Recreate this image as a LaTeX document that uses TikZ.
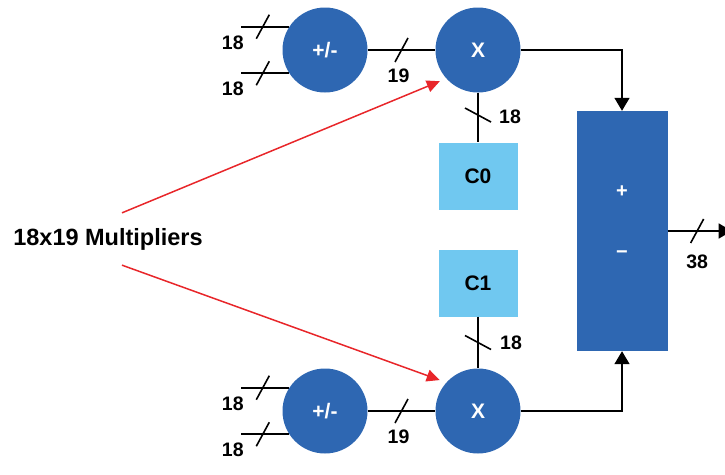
\documentclass[tikz,border=0pt]{standalone}
\usepackage{fontspec}
\setmainfont{Liberation Sans}
\usetikzlibrary{calc,positioning,arrows.meta}
\definecolor{dspblue}{RGB}{46,103,178}
\definecolor{coefblue}{RGB}{112,200,240}
\definecolor{arrred}{RGB}{232,38,42}

\tikzset{
	op/.style={circle,fill=dspblue,minimum size=85pt,inner sep=0pt,text=white,font=\bfseries\fontsize{21}{21}\selectfont},
	coef/.style={rectangle,fill=coefblue,minimum width=79pt,minimum height=67pt,font=\bfseries\fontsize{21}{21}\selectfont},
	num/.style={inner sep=0pt,font=\bfseries\fontsize{19.5}{20}\selectfont},
	sign/.style={inner sep=0pt,text=white,font=\bfseries\fontsize{20}{20}\selectfont},
	wire/.style={line width=1.6pt},
	tick/.style={line width=1.6pt},
	tip/.style={-{Triangle[width=15pt,length=13pt]}},
	pointer/.style={draw=arrred,line width=1.5pt,-{Triangle[width=12pt,length=13pt]}}
}

\begin{document}
\begin{tikzpicture}[x=1pt,y=-1pt]
	\useasboundingbox (0,0) rectangle (725,474);

	% blocks
	\node[op] (plus1) at (325,50) {+/-};
	\node[op] (mul1)  at (478,50) {X};
	\node[op] (plus2) at (325,411) {+/-};
	\node[op] (mul2)  at (478,411) {X};
	\node[coef] (c0) at (478,176) {C0};
	\node[coef] (c1) at (478,283) {C1};
	\node[rectangle,fill=dspblue,minimum width=91pt,minimum height=240pt] (sum) at (622,231) {};
	\node[sign] (sp) at ($(sum.center)+(0,-39)$) {+};
	\node[sign] (sm) at ($(sum.center)+(0,24)$) {−};
	\node[num,font=\bfseries\fontsize{23.5}{24}\selectfont] (lbl) at (108,239) {18x19 Multipliers};

	% free ends
	\coordinate (in1) at ($(plus1.147)+(-48,0)$);
	\coordinate (in2) at ($(plus1.213)+(-48,0)$);
	\coordinate (in3) at ($(plus2.147)+(-48,0)$);
	\coordinate (in4) at ($(plus2.213)+(-48,0)$);
	\coordinate (out) at ($(sum.east)+(64,0)$);

	% wires
	\draw[wire] (in1) -- (plus1.147);
	\draw[wire] (in2) -- (plus1.213);
	\draw[wire] (in3) -- (plus2.147);
	\draw[wire] (in4) -- (plus2.213);
	\draw[wire] (plus1) -- (mul1);
	\draw[wire] (plus2) -- (mul2);
	\draw[wire] (mul1.south) -- (c0.north);
	\draw[wire] (c1.south) -- (mul2.north);
	\draw[wire,tip] (mul1.east) -| (sum.north);
	\draw[wire,tip] (mul2.east) -| (sum.south);
	\draw[wire,tip] (sum.east) -- (out);

	% bus widths
	\coordinate (b1) at ($(in1)!0.45!(plus1.147)$);
	\coordinate (b2) at ($(in2)!0.45!(plus1.213)$);
	\coordinate (b3) at ($(in3)!0.45!(plus2.147)$);
	\coordinate (b4) at ($(in4)!0.45!(plus2.213)$);
	\coordinate (b5) at ($(plus1.east)!0.5!(mul1.west)$);
	\coordinate (b6) at ($(plus2.east)!0.5!(mul2.west)$);
	\coordinate (b7) at ($(sum.east)!0.46!(out)$);
	\coordinate (v1) at ($(mul1.south)!0.45!(c0.north)$);
	\coordinate (v2) at ($(c1.south)!0.5!(mul2.north)$);
	\foreach \b in {b1,b2,b3,b4,b5,b6,b7}
		\draw[tick] ($(\b)+(-6.5,12)$) -- ($(\b)+(6.5,-12)$);
	\foreach \v in {v1,v2}
		\draw[tick] ($(\v)+(-13,-7)$) -- ($(\v)+(13,7)$);

	\node[num] (n1) at ($(b1)+(-30,16)$) {18};
	\node[num] (n2) at ($(b2)+(-30,16)$) {18};
	\node[num] (n3) at ($(b3)+(-30,16)$) {18};
	\node[num] (n4) at ($(b4)+(-30,16)$) {18};
	\node[num] (n5) at ($(b5)+(-3,26)$) {19};
	\node[num] (n6) at ($(b6)+(-3,26)$) {19};
	\node[num] (n7) at ($(b7)+(0,31)$) {38};
	\node[num] (n8) at ($(v1)+(32,2)$) {18};
	\node[num] (n9) at ($(v2)+(33,0)$) {18};

	% pointers
	\coordinate (p1) at ($(lbl.north)+(14,-15)$);
	\coordinate (p2) at ($(lbl.south)+(14,15)$);
	\draw[pointer,shorten >=7pt] (p1) -- (mul1.222);
	\draw[pointer,shorten >=7pt] (p2) -- (mul2.138);
\end{tikzpicture}
\end{document}
